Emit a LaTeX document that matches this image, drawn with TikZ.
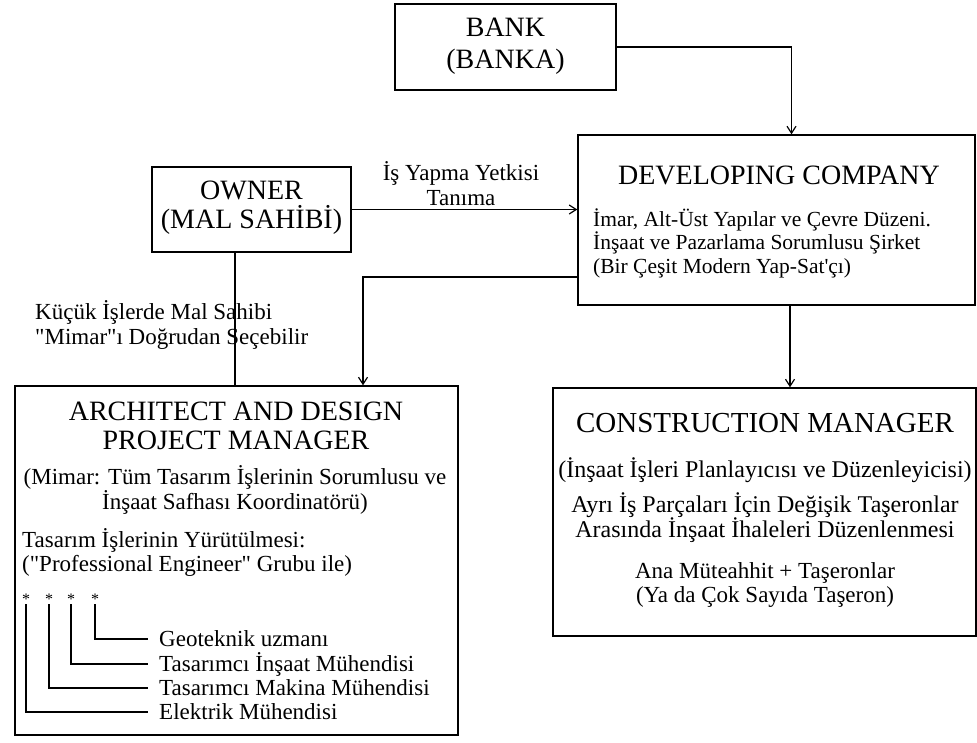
\documentclass[tikz,border=0pt]{standalone}
\usepackage{fontspec}
\setmainfont{Liberation Serif}[Ligatures=TeXOff]
\usetikzlibrary{arrows.meta}
\begin{document}
\begin{tikzpicture}[x=1pt,y=-1pt,
  box/.style={draw,line width=1.4pt,rectangle,inner sep=0pt},
  conn/.style={line width=1.3pt},
  arr/.style={conn,-{Straight Barb[length=7pt,width=9pt,line width=1.2pt]}},
  ttl/.style={font=\fontsize{28}{29}\selectfont,align=center,inner sep=0pt},
  txt/.style={font=\fontsize{23}{24.5}\selectfont,inner sep=0pt},
  ]
\useasboundingbox (0,0) rectangle (977,742);
% boxes
\node[box,minimum width=221pt,minimum height=86pt] (bank) at (505.5,47) {};
\node[box,minimum width=199pt,minimum height=85pt] (owner) at (251.5,209.5) {};
\node[box,minimum width=397pt,minimum height=170pt] (dev) at (776.5,220) {};
\node[box,minimum width=443pt,minimum height=349pt] (arch) at (236.5,560.5) {};
\node[box,minimum width=423pt,minimum height=248pt] (cm) at (764.5,512) {};
% box texts
\node[ttl,font=\fontsize{28}{32}\selectfont] (bankt) at (505.5,46) {BANK\\(BANKA)};
\node[ttl] (ownert) at (251.5,208) {OWNER\\(MAL SAHİBİ)};
\node[ttl] (devt) at (779,175) {DEVELOPING COMPANY};
\node[txt,font=\fontsize{21.5}{23.5}\selectfont,anchor=west,align=left] (devb) at (593,243) {İmar, Alt-Üst Yapılar ve Çevre Düzeni.\\İnşaat ve Pazarlama Sorumlusu Şirket\\(Bir Çeşit Modern Yap-Sat'çı)};
\node[ttl] (archt) at (236,426) {ARCHITECT AND DESIGN\\PROJECT MANAGER};
\node[txt,align=center] (archb) at (235,490) {(Mimar: Tüm Tasarım İşlerinin Sorumlusu ve\\İnşaat Safhası Koordinatörü)};
\node[txt,anchor=west,align=left] (archc) at (22,552.5) {Tasarım İşlerinin Yürütülmesi:\\("Professional Engineer" Grubu ile)};
\node[ttl,font=\fontsize{29}{30}\selectfont] (cmt) at (765,423) {CONSTRUCTION MANAGER};
\node[txt,font=\fontsize{24}{25}\selectfont,align=center] (cm1) at (765,470) {(İnşaat İşleri Planlayıcısı ve Düzenleyicisi)};
\node[txt,font=\fontsize{24}{25}\selectfont,align=center] (cm2) at (765,517.5) {Ayrı İş Parçaları İçin Değişik Taşeronlar\\Arasında İnşaat İhaleleri Düzenlenmesi};
\node[txt,align=center] (cm3) at (765,585) {Ana Müteahhit + Taşeronlar\\(Ya da Çok Sayıda Taşeron)};
% connector labels
\node[txt,align=center] (lbl1) at (461,183.5) {İş Yapma Yetkisi\\Tanıma};
\node[txt,anchor=west,align=left] (lbl2) at (35,325) {Küçük İşlerde Mal Sahibi\\"Mimar"ı Doğrudan Seçebilir};
% connectors
\draw[arr] (bank.east) -| ([xshift=15pt]dev.north);
\draw[arr] (owner.east) -- (owner.east -| dev.west);
\draw[arr] ([yshift=-57pt]dev.west) -| ([xshift=126.5pt]arch.north);
\draw[conn] ([xshift=-16.5pt]owner.south) -- ([xshift=-1.5pt]arch.north);
\draw[arr] ([xshift=13.5pt]dev.south) -- ([xshift=13.5pt]dev.south |- cm.north);
% engineers
\foreach \n/\x/\y/\t in {s1/95/639/Geoteknik uzmanı, s2/71/664/Tasarımcı İnşaat Mühendisi, s3/49/688/Tasarımcı Makina Mühendisi, s4/26/712/Elektrik Mühendisi}{
  \node[font=\fontsize{16}{16}\selectfont,inner sep=0pt] (\n) at (\x,599) {*};
  \node[txt,anchor=west] (\n t) at (159,\y) {\t};
  \draw[conn,line width=1.1pt] (\n.south) |- ([xshift=-11pt]\n t.west);
}
\end{tikzpicture}
\end{document}
